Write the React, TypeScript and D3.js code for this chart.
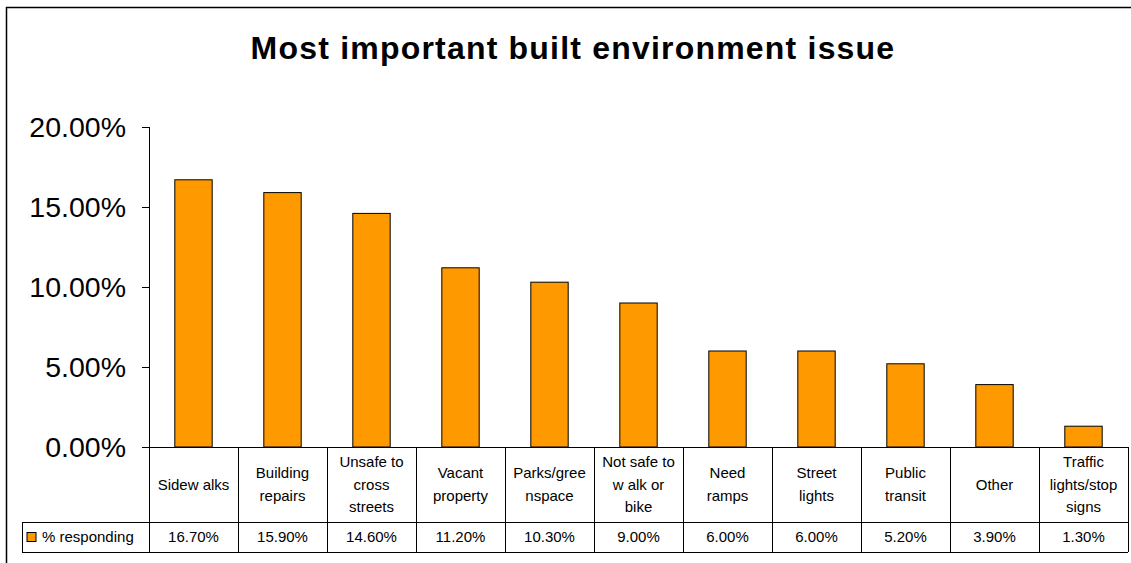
import React from "react";
import * as d3 from "d3";

const categories: string[][] = [
  ["Sidew alks"],
  ["Building", "repairs"],
  ["Unsafe to", "cross", "streets"],
  ["Vacant", "property"],
  ["Parks/gree", "nspace"],
  ["Not safe to", "w alk or", "bike"],
  ["Need", "ramps"],
  ["Street", "lights"],
  ["Public", "transit"],
  ["Other"],
  ["Traffic", "lights/stop", "signs"],
];
const values: number[] = [16.7, 15.9, 14.6, 11.2, 10.3, 9.0, 6.0, 6.0, 5.2, 3.9, 1.3];
const yTicks: number[] = [0, 5, 10, 15, 20];
const seriesName = "% responding";
const title = "Most important built environment issue";

const W = 1131;
const H = 563;
const left = 149;
const right = 1128;
const top = 127;
const bottom = 447;
const catRowBottom = 522;
const dataRowBottom = 552;
const legendLeft = 22;
const FONT = "Arial, 'Liberation Sans', sans-serif";
const ORANGE = "#FF9900";

export default function App() {
  const idx = categories.map((_, i) => String(i));
  const x = d3.scaleBand<string>().domain(idx).range([left, right]).padding(0);
  const y = d3.scaleLinear().domain([0, 20]).range([bottom, top]);
  const bw = x.bandwidth();
  const barW = bw * 0.42;
  const lineH = 22.5;
  const catMid = (bottom + catRowBottom) / 2;
  const dataMid = (catRowBottom + dataRowBottom) / 2;
  const gridColor = "#000";

  return (
    <svg
      width={W}
      height={H}
      style={{ position: "absolute", left: 0, top: 0, background: "#fff" }}
      fontFamily={FONT}
    >
      {/* outer frame */}
      <line x1={6} y1={7.5} x2={W} y2={7.5} stroke="#000" strokeWidth={1.5} />
      <line x1={6.5} y1={7} x2={6.5} y2={H} stroke="#000" strokeWidth={1.5} />

      <text x={573} y={59} textAnchor="middle" fontSize={32} fontWeight="bold" letterSpacing={1.2} fill="#000">
        {title}
      </text>

      {/* y axis */}
      <line x1={left + 0.5} y1={top} x2={left + 0.5} y2={bottom} stroke="#000" />
      {yTicks.map((t) => (
        <g key={t}>
          <line x1={left - 7} x2={left} y1={Math.round(y(t)) + 0.5} y2={Math.round(y(t)) + 0.5} stroke="#000" />
          <text x={126} y={y(t) + 10} textAnchor="end" fontSize={28.5} fill="#000">
            {t.toFixed(2)}%
          </text>
        </g>
      ))}

      {/* bars */}
      {values.map((v, i) => {
        const cx = (x(String(i)) as number) + bw / 2;
        return (
          <rect
            key={i}
            x={cx - barW / 2}
            y={y(v)}
            width={barW}
            height={bottom - y(v)}
            fill={ORANGE}
            stroke="#000"
            strokeWidth={1}
          />
        );
      })}

      {/* table grid */}
      <line x1={left - 7} x2={right} y1={bottom + 0.5} y2={bottom + 0.5} stroke={gridColor} />
      <line x1={legendLeft} x2={right} y1={catRowBottom + 0.5} y2={catRowBottom + 0.5} stroke={gridColor} />
      <line x1={legendLeft} x2={right} y1={dataRowBottom + 0.5} y2={dataRowBottom + 0.5} stroke={gridColor} />
      <line x1={legendLeft + 0.5} x2={legendLeft + 0.5} y1={catRowBottom} y2={dataRowBottom} stroke={gridColor} />
      {idx.concat(["end"]).map((k) => {
        const xx = k === "end" ? right : (x(k) as number);
        return (
          <line
            key={k}
            x1={Math.round(xx) + 0.5}
            x2={Math.round(xx) + 0.5}
            y1={bottom}
            y2={dataRowBottom}
            stroke={gridColor}
          />
        );
      })}

      {/* category labels */}
      {categories.map((lines, i) => {
        const cx = (x(String(i)) as number) + bw / 2;
        const start = catMid - ((lines.length - 1) * lineH) / 2;
        return (
          <text key={i} textAnchor="middle" fontSize={15} fill="#000">
            {lines.map((l, j) => (
              <tspan key={j} x={cx} y={start + j * lineH + 5}>
                {l}
              </tspan>
            ))}
          </text>
        );
      })}

      {/* data row */}
      {values.map((v, i) => {
        const cx = (x(String(i)) as number) + bw / 2;
        return (
          <text key={i} x={cx} y={dataMid + 5} textAnchor="middle" fontSize={15} fill="#000">
            {v.toFixed(2)}%
          </text>
        );
      })}

      {/* legend */}
      <rect x={27} y={dataMid - 4.5} width={9} height={9} fill={ORANGE} stroke="#000" strokeWidth={1} />
      <text x={42} y={dataMid + 5} fontSize={15} fill="#000">
        {seriesName}
      </text>
    </svg>
  );
}
